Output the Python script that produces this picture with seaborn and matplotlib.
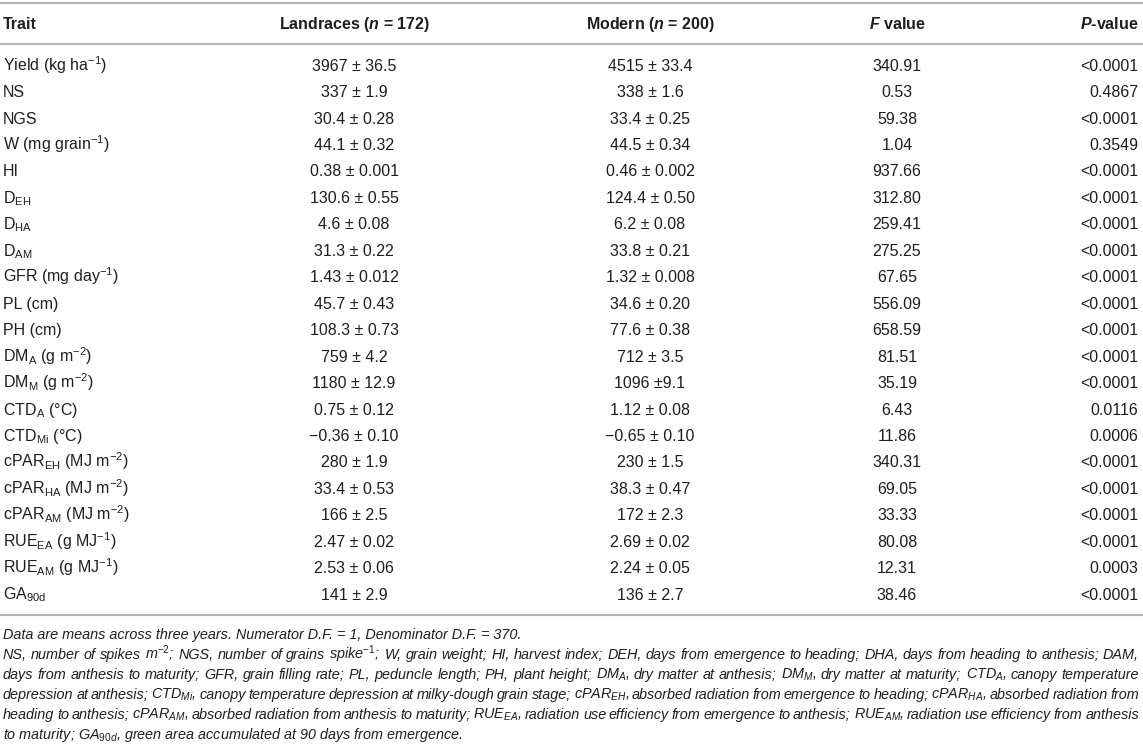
import matplotlib
matplotlib.use("Agg")
import matplotlib.pyplot as plt
import seaborn as sns

# table content
traits = ["Yield (kg ha$^{-1}$)", "NS", "NGS", "W (mg grain$^{-1}$)", "HI",
          r"D$_{\mathrm{EH}}$", r"D$_{\mathrm{HA}}$", r"D$_{\mathrm{AM}}$",
          "GFR (mg day$^{-1}$)", "PL (cm)", "PH (cm)",
          r"DM$_{\mathrm{A}}$ (g m$^{-2}$)", r"DM$_{\mathrm{M}}$ (g m$^{-2}$)",
          r"CTD$_{\mathrm{A}}$ (°C)", r"CTD$_{\mathrm{Mi}}$ (°C)",
          r"cPAR$_{\mathrm{EH}}$ (MJ m$^{-2}$)", r"cPAR$_{\mathrm{HA}}$ (MJ m$^{-2}$)",
          r"cPAR$_{\mathrm{AM}}$ (MJ m$^{-2}$)", r"RUE$_{\mathrm{EA}}$ (g MJ$^{-1}$)",
          r"RUE$_{\mathrm{AM}}$ (g MJ$^{-1}$)", r"GA$_{\mathrm{90d}}$"]

landraces = ["3967 ± 36.5", "337 ± 1.9", "30.4 ± 0.28", "44.1 ± 0.32", "0.38 ± 0.001",
             "130.6 ± 0.55", "4.6 ± 0.08", "31.3 ± 0.22", "1.43 ± 0.012", "45.7 ± 0.43",
             "108.3 ± 0.73", "759 ± 4.2", "1180 ± 12.9", "0.75 ± 0.12", "−0.36 ± 0.10",
             "280 ± 1.9", "33.4 ± 0.53", "166 ± 2.5", "2.47 ± 0.02", "2.53 ± 0.06",
             "141 ± 2.9"]

modern = ["4515 ± 33.4", "338 ± 1.6", "33.4 ± 0.25", "44.5 ± 0.34", "0.46 ± 0.002",
          "124.4 ± 0.50", "6.2 ± 0.08", "33.8 ± 0.21", "1.32 ± 0.008", "34.6 ± 0.20",
          "77.6 ± 0.38", "712 ± 3.5", "1096 ±9.1", "1.12 ± 0.08", "−0.65 ± 0.10",
          "230 ± 1.5", "38.3 ± 0.47", "172 ± 2.3", "2.69 ± 0.02", "2.24 ± 0.05",
          "136 ± 2.7"]

f_values = ["340.91", "0.53", "59.38", "1.04", "937.66", "312.80", "259.41", "275.25",
            "67.65", "556.09", "658.59", "81.51", "35.19", "6.43", "11.86", "340.31",
            "69.05", "33.33", "80.08", "12.31", "38.46"]

p_values = ["<0.0001", "0.4867", "<0.0001", "0.3549", "<0.0001", "<0.0001", "<0.0001",
            "<0.0001", "<0.0001", "<0.0001", "<0.0001", "<0.0001", "<0.0001", "0.0116",
            "0.0006", "<0.0001", "<0.0001", "<0.0001", "<0.0001", "0.0003", "<0.0001"]

headers = ["Trait", r"Landraces ($\mathbfit{n}$ = 172)", r"Modern ($\mathbfit{n}$ = 200)",
           r"$\mathbfit{F}$ value", r"$\mathbfit{P}$-value"]

footnotes = [
    "Data are means across three years. Numerator D.F. = 1, Denominator D.F. = 370.",
    "NS, number of spikes m$^{-2}$; NGS, number of grains spike$^{-1}$; W, grain weight; HI, harvest index; "
    "DEH, days from emergence to heading; DHA, days from heading to anthesis; DAM,",
    r"days from anthesis to maturity; GFR, grain filling rate; PL, peduncle length; PH, plant height; "
    r"DM$_{\mathit{A}}$, dry matter at anthesis; DM$_{\mathit{M}}$, dry matter at maturity; CTD$_{\mathit{A}}$, canopy temperature",
    r"depression at anthesis; CTD$_{\mathit{Mi}}$, canopy temperature depression at milky-dough grain stage; "
    r"cPAR$_{\mathit{EH}}$, absorbed radiation from emergence to heading; cPAR$_{\mathit{HA}}$, absorbed radiation from",
    r"heading to anthesis; cPAR$_{\mathit{AM}}$, absorbed radiation from anthesis to maturity; "
    r"RUE$_{\mathit{EA}}$, radiation use efficiency from emergence to anthesis; RUE$_{\mathit{AM}}$, radiation use efficiency from anthesis",
    r"to maturity; GA$_{\mathit{90d}}$, green area accumulated at 90 days from emergence.",
]

sns.set_theme(style="white")
plt.rcParams["font.family"] = ["Liberation Sans", "DejaVu Sans"]
plt.rcParams["mathtext.fontset"] = "custom"
plt.rcParams["mathtext.rm"] = "Liberation Sans"
plt.rcParams["mathtext.it"] = "Liberation Sans:italic"
plt.rcParams["mathtext.bf"] = "Liberation Sans:bold"
plt.rcParams["mathtext.bfit"] = "Liberation Sans:bold:italic"
plt.rcParams["mathtext.sf"] = "Liberation Sans"

W, H = 1143, 744
fig = plt.figure(figsize=(W / 100, H / 100), dpi=100)
ax = fig.add_axes([0, 0, 1, 1])
ax.set_xlim(0, W)
ax.set_ylim(H, 0)
ax.axis("off")

txt = "#1e1e1e"
rule = "#b4b4b4"
fs = 11.5
cols = [(3, "left"), (354, "center"), (650, "center"), (897, "center"), (1138, "right")]
base = 5.7  # half cap height, for baseline placement

# rules
for yy in (3, 44, 615):
    ax.axhline(yy, color=rule, lw=1.5)

# header
for (x, ha), h in zip(cols, headers):
    ax.text(x, 23.5 + base, h, ha=ha, va="baseline", fontsize=fs, fontweight="bold", color=txt)

# body
y0, dy = 65, 26.45
for i, row in enumerate(zip(traits, landraces, modern, f_values, p_values)):
    for (x, ha), cell in zip(cols, row):
        ax.text(x, y0 + i * dy + base, cell, ha=ha, va="baseline", fontsize=fs, color=txt)

# footnotes (justified like the source, first and last lines ragged)
fig.canvas.draw()
rend = fig.canvas.get_renderer()
fy0, fdy, ffs = 634, 20, 10.4
left, right = 3, 1139
for k, line in enumerate(footnotes):
    yy = fy0 + k * fdy + 5.0
    if k in (0, len(footnotes) - 1):
        ax.text(left, yy, line, ha="left", va="baseline", fontsize=ffs, style="italic", color=txt)
        continue
    words = line.split(" ")
    items = [ax.text(0, yy, w, ha="left", va="baseline", fontsize=ffs, style="italic", color=txt)
             for w in words]
    widths = [t.get_window_extent(rend).width for t in items]
    gap = (right - left - sum(widths)) / (len(words) - 1)
    x = left
    for t, w in zip(items, widths):
        t.set_x(x)
        x += w + gap

fig.savefig("out.png", dpi=100)
